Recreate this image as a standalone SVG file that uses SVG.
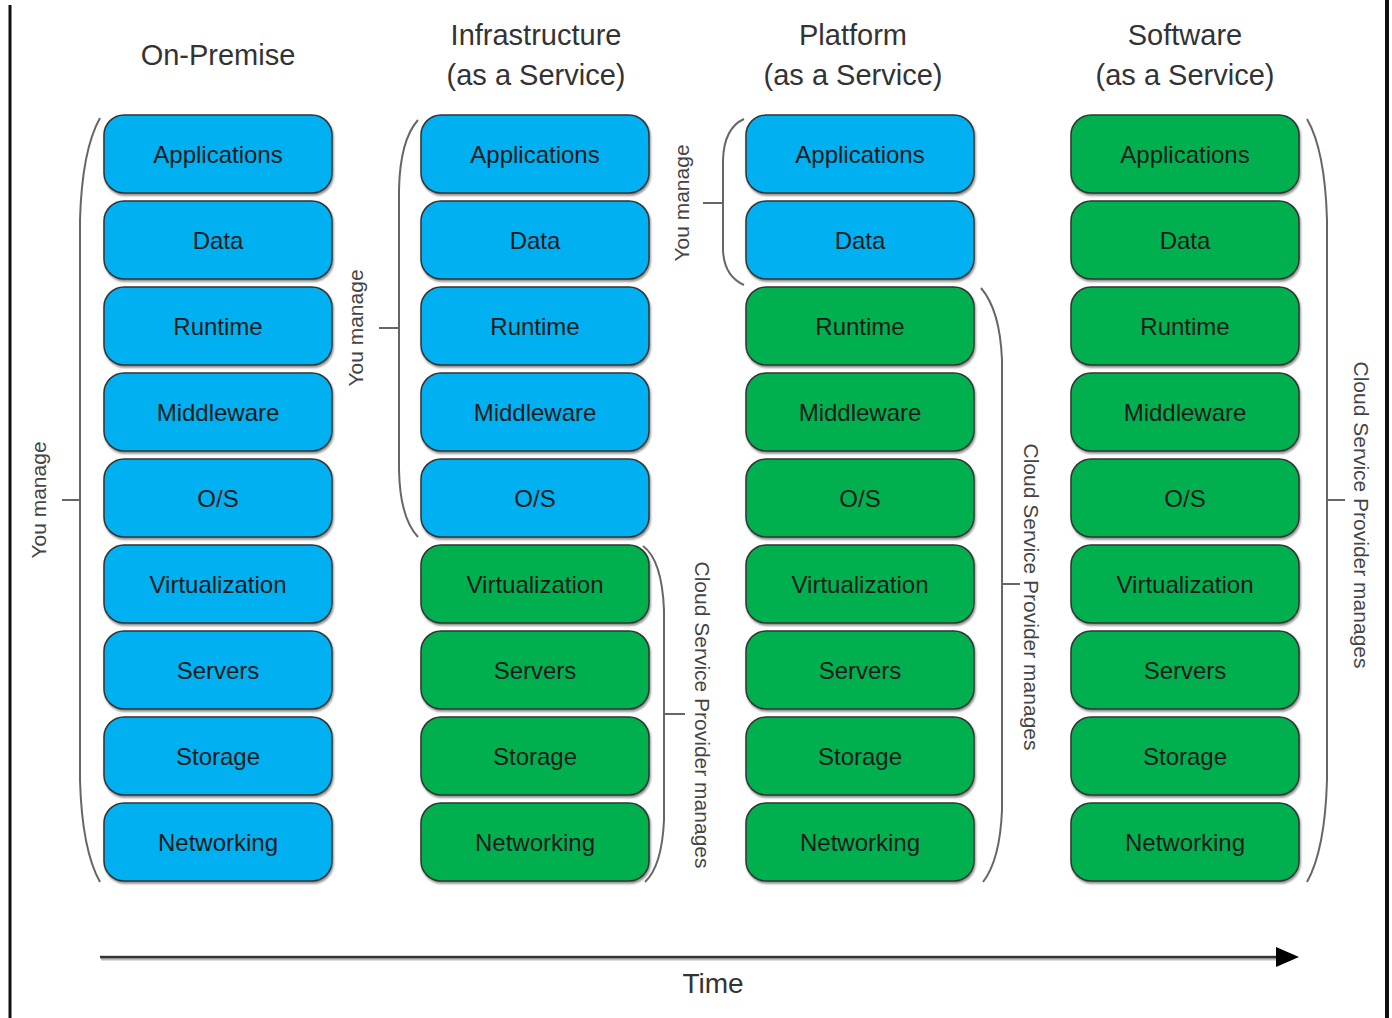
<svg xmlns="http://www.w3.org/2000/svg" width="1392" height="1018" viewBox="0 0 1392 1018">
<defs>
<filter id="sh" x="-10%" y="-10%" width="120%" height="130%">
<feDropShadow dx="1" dy="2" stdDeviation="1.2" flood-color="#000" flood-opacity="0.45"/>
</filter>
</defs>
<style>
.b{stroke:#333;stroke-width:1.5;filter:url(#sh)}
.bl{fill:#00B0F0}
.gr{fill:#00B050}
.t{font-family:"Liberation Sans",Arial,sans-serif;font-size:24px;fill:#1a1a1a;text-anchor:middle;dominant-baseline:central}
.h{font-family:"Liberation Sans",Arial,sans-serif;font-size:29px;fill:#333;text-anchor:middle}
.br{fill:none;stroke:#666;stroke-width:2}
.r{font-family:"Liberation Sans",Arial,sans-serif;font-size:21px;fill:#444;text-anchor:middle;dominant-baseline:central}
</style>
<rect width="1392" height="1018" fill="#fff"/>
<line x1="10" y1="5" x2="10" y2="1018" stroke="#111" stroke-width="3"/>
<line x1="1387" y1="0" x2="1387" y2="1018" stroke="#111" stroke-width="4"/>

<g id="headers">
<text class="h" x="218" y="65">On-Premise</text>
<text class="h" x="536" y="45">Infrastructure</text>
<text class="h" x="536" y="85">(as a Service)</text>
<text class="h" x="853" y="45">Platform</text>
<text class="h" x="853" y="85">(as a Service)</text>
<text class="h" x="1185" y="45">Software</text>
<text class="h" x="1185" y="85">(as a Service)</text>
</g>

<g id="col-onprem">
<g id="op-app"><rect class="b bl" x="104" y="115" width="228" height="78" rx="20"/><text class="t" x="218" y="154">Applications</text></g>
<g id="op-data"><rect class="b bl" x="104" y="201" width="228" height="78" rx="20"/><text class="t" x="218" y="240">Data</text></g>
<g id="op-rt"><rect class="b bl" x="104" y="287" width="228" height="78" rx="20"/><text class="t" x="218" y="326">Runtime</text></g>
<g id="op-mw"><rect class="b bl" x="104" y="373" width="228" height="78" rx="20"/><text class="t" x="218" y="412">Middleware</text></g>
<g id="op-os"><rect class="b bl" x="104" y="459" width="228" height="78" rx="20"/><text class="t" x="218" y="498">O/S</text></g>
<g id="op-virt"><rect class="b bl" x="104" y="545" width="228" height="78" rx="20"/><text class="t" x="218" y="584">Virtualization</text></g>
<g id="op-srv"><rect class="b bl" x="104" y="631" width="228" height="78" rx="20"/><text class="t" x="218" y="670">Servers</text></g>
<g id="op-sto"><rect class="b bl" x="104" y="717" width="228" height="78" rx="20"/><text class="t" x="218" y="756">Storage</text></g>
<g id="op-net"><rect class="b bl" x="104" y="803" width="228" height="78" rx="20"/><text class="t" x="218" y="842">Networking</text></g>
</g>

<g id="col-iaas">
<g id="ia-app"><rect class="b bl" x="421" y="115" width="228" height="78" rx="20"/><text class="t" x="535" y="154">Applications</text></g>
<g id="ia-data"><rect class="b bl" x="421" y="201" width="228" height="78" rx="20"/><text class="t" x="535" y="240">Data</text></g>
<g id="ia-rt"><rect class="b bl" x="421" y="287" width="228" height="78" rx="20"/><text class="t" x="535" y="326">Runtime</text></g>
<g id="ia-mw"><rect class="b bl" x="421" y="373" width="228" height="78" rx="20"/><text class="t" x="535" y="412">Middleware</text></g>
<g id="ia-os"><rect class="b bl" x="421" y="459" width="228" height="78" rx="20"/><text class="t" x="535" y="498">O/S</text></g>
<g id="ia-virt"><rect class="b gr" x="421" y="545" width="228" height="78" rx="20"/><text class="t" x="535" y="584">Virtualization</text></g>
<g id="ia-srv"><rect class="b gr" x="421" y="631" width="228" height="78" rx="20"/><text class="t" x="535" y="670">Servers</text></g>
<g id="ia-sto"><rect class="b gr" x="421" y="717" width="228" height="78" rx="20"/><text class="t" x="535" y="756">Storage</text></g>
<g id="ia-net"><rect class="b gr" x="421" y="803" width="228" height="78" rx="20"/><text class="t" x="535" y="842">Networking</text></g>
</g>

<g id="col-paas">
<g id="pa-app"><rect class="b bl" x="746" y="115" width="228" height="78" rx="20"/><text class="t" x="860" y="154">Applications</text></g>
<g id="pa-data"><rect class="b bl" x="746" y="201" width="228" height="78" rx="20"/><text class="t" x="860" y="240">Data</text></g>
<g id="pa-rt"><rect class="b gr" x="746" y="287" width="228" height="78" rx="20"/><text class="t" x="860" y="326">Runtime</text></g>
<g id="pa-mw"><rect class="b gr" x="746" y="373" width="228" height="78" rx="20"/><text class="t" x="860" y="412">Middleware</text></g>
<g id="pa-os"><rect class="b gr" x="746" y="459" width="228" height="78" rx="20"/><text class="t" x="860" y="498">O/S</text></g>
<g id="pa-virt"><rect class="b gr" x="746" y="545" width="228" height="78" rx="20"/><text class="t" x="860" y="584">Virtualization</text></g>
<g id="pa-srv"><rect class="b gr" x="746" y="631" width="228" height="78" rx="20"/><text class="t" x="860" y="670">Servers</text></g>
<g id="pa-sto"><rect class="b gr" x="746" y="717" width="228" height="78" rx="20"/><text class="t" x="860" y="756">Storage</text></g>
<g id="pa-net"><rect class="b gr" x="746" y="803" width="228" height="78" rx="20"/><text class="t" x="860" y="842">Networking</text></g>
</g>

<g id="col-saas">
<g id="sa-app"><rect class="b gr" x="1071" y="115" width="228" height="78" rx="20"/><text class="t" x="1185" y="154">Applications</text></g>
<g id="sa-data"><rect class="b gr" x="1071" y="201" width="228" height="78" rx="20"/><text class="t" x="1185" y="240">Data</text></g>
<g id="sa-rt"><rect class="b gr" x="1071" y="287" width="228" height="78" rx="20"/><text class="t" x="1185" y="326">Runtime</text></g>
<g id="sa-mw"><rect class="b gr" x="1071" y="373" width="228" height="78" rx="20"/><text class="t" x="1185" y="412">Middleware</text></g>
<g id="sa-os"><rect class="b gr" x="1071" y="459" width="228" height="78" rx="20"/><text class="t" x="1185" y="498">O/S</text></g>
<g id="sa-virt"><rect class="b gr" x="1071" y="545" width="228" height="78" rx="20"/><text class="t" x="1185" y="584">Virtualization</text></g>
<g id="sa-srv"><rect class="b gr" x="1071" y="631" width="228" height="78" rx="20"/><text class="t" x="1185" y="670">Servers</text></g>
<g id="sa-sto"><rect class="b gr" x="1071" y="717" width="228" height="78" rx="20"/><text class="t" x="1185" y="756">Storage</text></g>
<g id="sa-net"><rect class="b gr" x="1071" y="803" width="228" height="78" rx="20"/><text class="t" x="1185" y="842">Networking</text></g>
</g>

<g id="connectors">
<!-- On-Premise: You manage -->
<path class="br" d="M100,118 Q82,150 80,220 L80,780 Q82,850 100,882 M80,500 L62,500"/>
<!-- IaaS: You manage -->
<path class="br" d="M418,120 Q400,140 399,190 L399,470 Q400,518 418,537 M399,328 L379,328"/>
<!-- IaaS: provider -->
<path class="br" d="M643,546 Q662,560 664,610 L664,820 Q662,866 645,882 M664,714 L685,714"/>
<!-- PaaS: You manage -->
<path class="br" d="M744,119 Q724,128 723,160 L723,250 Q724,276 744,285 M723,203 L703,203"/>
<!-- PaaS: provider -->
<path class="br" d="M981,288 Q1000,310 1002,360 L1002,810 Q1000,860 983,882 M1002,584 L1020,584"/>
<!-- SaaS: provider -->
<path class="br" d="M1307,119 Q1325,150 1327,220 L1327,780 Q1325,850 1307,882 M1327,500 L1345,500"/>
<!-- Time arrow -->
<rect x="101" y="958" width="1180" height="2.5" fill="#bbb"/>
<rect x="100" y="955.8" width="1180" height="2.5" fill="#333"/>
<path d="M1276,947 L1299,957 L1276,967 Z" fill="#000"/>
</g>

<g id="labels">
<text class="r" transform="translate(38,500) rotate(-90)">You manage</text>
<text class="r" transform="translate(355,328) rotate(-90)">You manage</text>
<text class="r" transform="translate(681,203) rotate(-90)">You manage</text>
<text class="r" transform="translate(702,715) rotate(90)">Cloud Service Provider manages</text>
<text class="r" transform="translate(1031,597) rotate(90)">Cloud Service Provider manages</text>
<text class="r" transform="translate(1361,515) rotate(90)">Cloud Service Provider manages</text>
<text class="h" x="713" y="993" style="font-size:28px">Time</text>
</g>
</svg>
